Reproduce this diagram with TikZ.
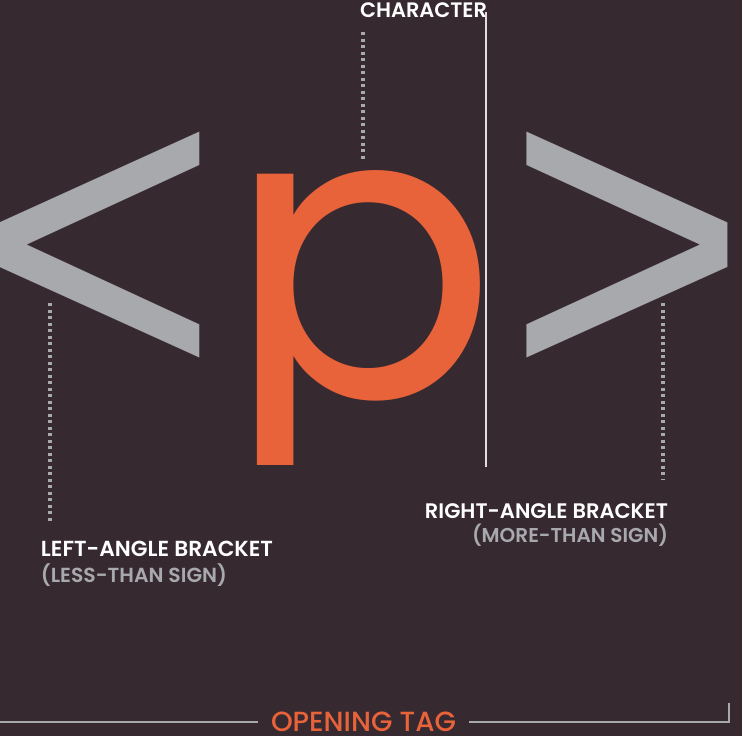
\documentclass[tikz,border=0pt]{standalone}
\usepackage{fontspec}
\usepackage{graphicx}
\setmainfont{Poppins}
\newfontfamily\glyphfont{Poppins}
\newfontfamily\bracketfont{Liberation Sans}
\IfFontExistsTF{Poppins SemiBold}
  {\newfontfamily\labfont{Poppins SemiBold}}
  {\newfontfamily\labfont{Poppins}[UprightFont=*, UprightFeatures={FakeBold=1.5}]}
\IfFontExistsTF{Poppins Medium}
  {\newfontfamily\tagfont{Poppins Medium}}
  {\newfontfamily\tagfont{Poppins}}
\definecolor{bg}{HTML}{372930}
\definecolor{tagorange}{HTML}{E8623A}
\definecolor{brgray}{HTML}{A7A9AC}
\definecolor{labwhite}{HTML}{FFFFFF}
\definecolor{thinline}{HTML}{E2DCDF}

% store ink metrics of glyph #1 (at 100pt, font #3) under prefix #2
\newcommand\glyphmetrics[3]{%
  \begingroup
  #3\fontsize{100pt}{100pt}\selectfont
  \expandafter\xdef\csname #2L\endcsname{\the\XeTeXglyphbounds1 \XeTeXcharglyph`#1 }%
  \expandafter\xdef\csname #2T\endcsname{\the\XeTeXglyphbounds2 \XeTeXcharglyph`#1 }%
  \expandafter\xdef\csname #2R\endcsname{\the\XeTeXglyphbounds3 \XeTeXcharglyph`#1 }%
  \expandafter\xdef\csname #2B\endcsname{\the\XeTeXglyphbounds4 \XeTeXcharglyph`#1 }%
  \expandafter\xdef\csname #2W\endcsname{\the\fontcharwd\font`#1 }%
  \endgroup}

% #1 name, #2 char, #3 prefix, #4 x0, #5 x1, #6 ytop, #7 ybot, #8 colour, #9 font
% the node's box is trimmed to the glyph's ink width
\newcommand\placeglyph[9]{%
  \edef\gL{\csname #3L\endcsname}\edef\gT{\csname #3T\endcsname}%
  \edef\gR{\csname #3R\endcsname}\edef\gB{\csname #3B\endcsname}%
  \edef\gW{\csname #3W\endcsname}%
  \pgfmathsetmacro\gsx{(#5-(#4))/(\gW-\gL-\gR)}%
  \pgfmathsetmacro\gsy{(#7-(#6))/(\gT+\gB)}%
  \pgfmathsetmacro\gLs{\gsx*(\gL)}%
  \pgfmathsetmacro\gRs{\gsx*(\gR)}%
  \pgfmathsetmacro\gpy{#6+\gsy*(\gT)}%
  \node[glyph, text=#8] (#1) at (#4,\gpy)
    {\kern-\gLs pt\scalebox{\gsx}[\gsy]{#9\fontsize{100pt}{100pt}\selectfont #2}\kern-\gRs pt};%
}

\tikzset{
  glyph/.style={inner sep=0pt, outer sep=0pt, anchor=base west},
  lab/.style={inner sep=0pt, outer sep=0pt, text=labwhite,
    font=\labfont\fontsize{20pt}{20pt}\selectfont},
  sublab/.style={lab, text=brgray},
  tagtext/.style={inner sep=0pt, inner xsep=13pt, outer sep=0pt, text=tagorange,
    font=\tagfont\fontsize{27pt}{27pt}\selectfont},
  dots/.style={draw=brgray, line width=3.3pt, dash pattern=on 3.3pt off 3.2pt},
  bar/.style={draw=brgray, line width=2.7pt},
  thin/.style={draw=thinline, line width=1.4pt}
}

\begin{document}%
\glyphmetrics{<}{lt}{\bracketfont}%
\glyphmetrics{>}{gt}{\bracketfont}%
\glyphmetrics{p}{pp}{\glyphfont}%
\begin{tikzpicture}[x=1pt, y=-1pt]
\useasboundingbox (0,0) rectangle (742,736);
\clip (0,0) rectangle (742,736);
\fill[bg] (0,0) rectangle (742,736);

% angle brackets
\placeglyph{lt}{<}{lt}{0}{200}{132}{358}{brgray}{\bracketfont}
\placeglyph{gt}{>}{gt}{527}{728}{132}{358}{brgray}{\bracketfont}

% the p (bowl fitted, stem clipped)
\begin{scope}
  \clip (0,0) rectangle (742,464);
  \pgfmathsetmacro\gsx{223/(\ppW-\ppL-\ppR)}
  \pgfmathsetmacro\gsy{227/(\ppT)}
  \pgfmathsetmacro\gpx{257-\gsx*(\ppL)}
  \node[glyph, text=tagorange, text depth=67pt] (pch) at (\gpx,397)
    {\scalebox{\gsx}[\gsy]{\glyphfont\fontsize{100pt}{100pt}\selectfont p}};
\end{scope}

% thin vertical line
\coordinate (vtop) at (486,12);
\coordinate (vbot) at (486,467);
\draw[thin] (vtop) -- (vbot);

% labels
\node[lab, anchor=base west] (charlab) at (360,17) {\resizebox{127pt}{!}{CHARACTER}};
\node[lab, anchor=base west] (ltlab) at (41,556) {\resizebox{232pt}{!}{LEFT-ANGLE BRACKET}};
\node[sublab, anchor=base west] (ltsub) at (41,582) {\resizebox{186pt}{!}{(LESS-THAN SIGN)}};
\node[lab, anchor=base east] (gtlab) at (668,518) {\resizebox{243pt}{!}{RIGHT-ANGLE BRACKET}};
\node[sublab, anchor=base east] (gtsub) at (668,542) {\resizebox{196pt}{!}{(MORE-THAN SIGN)}};

% dotted leaders
\coordinate (cd1) at (363,32);
\coordinate (cd2) at (363,159);
\coordinate (ld1) at (50,303);
\coordinate (ld2) at (50,523);
\coordinate (rd1) at (663,303);
\coordinate (rd2) at (663,480);
\draw[dots] (cd1) -- (cd2);
\draw[dots] (ld1) -- (ld2);
\draw[dots] (rd1) -- (rd2);

% bottom bracket with title
\node[tagtext, anchor=base] (tag) at (363.5,731.5) {\resizebox{185pt}{!}{OPENING TAG}};
\coordinate (bl) at (0,722);
\coordinate (br) at (729,722);
\coordinate (bt) at (729,703);
\draw[bar] (bl) -- (bl -| tag.west);
\draw[bar] (tag.east |- br) -- (br) -- (bt);
\end{tikzpicture}%
\end{document}
